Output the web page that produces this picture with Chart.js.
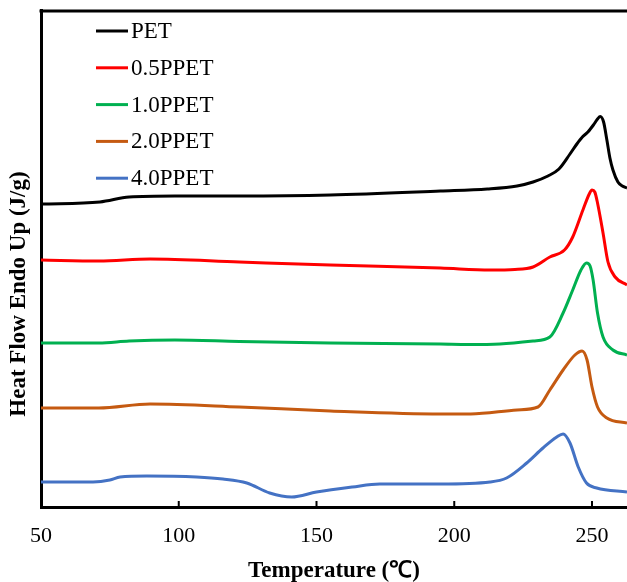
<!DOCTYPE html>
<html>
<head>
<meta charset="utf-8">
<script src="https://cdn.jsdelivr.net/npm/chart.js@4/dist/chart.umd.min.js"></script>
<style>
  html, body { margin: 0; padding: 0; background: #fff; }
  #wrap { width: 627px; height: 582px; }
</style>
</head>
<body>
<div id="wrap"><canvas id="dsc"></canvas></div>
<script>
// DSC curves (temperature in °C, heat flow in arbitrary stacked units)
const seriesNames = ['PET', '0.5PPET', '1.0PPET', '2.0PPET', '4.0PPET'];
const seriesColors = ['#000000', '#FF0000', '#00B050', '#C55A11', '#4472C4'];

const petT = [50, 71.4, 82, 98.6, 122, 155, 195, 212, 222.8, 228.6, 234, 238, 242, 244.5, 246.5, 248.5, 250.5, 252, 253, 254.2, 255.4, 256.5, 257.6, 259.4, 261, 262.7];
const petHF = [3.03, 3.05, 3.10, 3.11, 3.11, 3.12, 3.16, 3.18, 3.21, 3.25, 3.31, 3.38, 3.53, 3.63, 3.70, 3.75, 3.82, 3.88, 3.905, 3.85, 3.67, 3.49, 3.37, 3.25, 3.21, 3.19];

const pp05T = [50, 71, 89.6, 122, 155, 195, 213, 222, 228.6, 234.7, 240, 243, 246.7, 249, 250, 251, 252, 254, 255.8, 258.4, 262.7];
const pp05HF = [2.47, 2.46, 2.48, 2.45, 2.42, 2.39, 2.37, 2.375, 2.40, 2.50, 2.57, 2.70, 2.97, 3.13, 3.17, 3.15, 3.04, 2.74, 2.45, 2.30, 2.22];

const pp10T = [50, 71, 82, 98.6, 122, 155, 195, 205, 216.6, 228.6, 234.7, 239.5, 243, 246, 248, 249.3, 250.4, 252, 254, 257.6, 262.7];
const pp10HF = [1.64, 1.64, 1.66, 1.67, 1.655, 1.64, 1.63, 1.625, 1.63, 1.66, 1.70, 1.94, 2.17, 2.37, 2.44, 2.41, 2.27, 1.94, 1.70, 1.57, 1.52];

const pp20T = [50, 71, 89.6, 122, 155, 195, 206, 222.8, 230.4, 234.7, 239.5, 243.8, 246.4, 248.2, 250, 252, 255.4, 262.7];
const pp20HF = [0.99, 0.99, 1.03, 1.00, 0.96, 0.93, 0.93, 0.97, 1.00, 1.17, 1.37, 1.52, 1.56, 1.47, 1.20, 1.00, 0.89, 0.84];

const pp40T = [50, 68.9, 75, 78.7, 88.4, 106.5, 116, 124.7, 133, 141, 150, 163, 173, 195, 213, 219, 226.3, 232.2, 237.2, 239.5, 242, 245, 248, 251.7, 262.7];
const pp40HF = [0.25, 0.25, 0.27, 0.30, 0.31, 0.30, 0.28, 0.24, 0.14, 0.10, 0.15, 0.20, 0.23, 0.23, 0.25, 0.29, 0.44, 0.59, 0.70, 0.73, 0.64, 0.40, 0.24, 0.19, 0.15];

const xTicks = [50, 100, 150, 200, 250];

const serif = "'Liberation Serif', 'Times New Roman', serif";

function pairs(t, v) {
    return t.map((x, i) => ({ x: x, y: v[i] }));
}

const allT = [petT, pp05T, pp10T, pp20T, pp40T];
const allHF = [petHF, pp05HF, pp10HF, pp20HF, pp40HF];

const datasets = seriesNames.map((name, i) => ({
    label: name,
    data: pairs(allT[i], allHF[i]),
    borderColor: seriesColors[i],
    backgroundColor: seriesColors[i],
    borderWidth: 3,
    pointRadius: 0,
    cubicInterpolationMode: 'monotone',
    fill: false
}));

// frame top line, inward ticks, rotated y title and the legend
const decor = {
    id: 'decor',
    afterDraw(chart) {
        const ctx = chart.ctx;
        const area = chart.chartArea;
        const xs = chart.scales.x;
        ctx.save();
        ctx.strokeStyle = '#000';
        ctx.lineWidth = 3;
        ctx.beginPath();
        ctx.moveTo(area.left - 1.5, area.top + 1);
        ctx.lineTo(area.right, area.top + 1);
        ctx.stroke();

        ctx.lineWidth = 2;
        xTicks.slice(1).forEach(v => {
            const px = xs.getPixelForValue(v);
            ctx.beginPath();
            ctx.moveTo(px, area.bottom);
            ctx.lineTo(px, area.bottom - 6);
            ctx.stroke();
        });

        ctx.fillStyle = '#000';
        ctx.font = 'bold 23px ' + serif;
        ctx.textAlign = 'center';
        ctx.textBaseline = 'middle';
        ctx.translate(19, 294);
        ctx.rotate(-Math.PI / 2);
        ctx.fillText('Heat Flow Endo Up (J/g)', 0, 0);
        ctx.restore();

        ctx.save();
        ctx.font = '23px ' + serif;
        ctx.textAlign = 'left';
        ctx.textBaseline = 'middle';
        seriesNames.forEach((name, i) => {
            const y = 31 + i * 36.8;
            ctx.strokeStyle = seriesColors[i];
            ctx.lineWidth = 3;
            ctx.beginPath();
            ctx.moveTo(96, y);
            ctx.lineTo(128, y);
            ctx.stroke();
            ctx.fillStyle = '#000';
            ctx.fillText(name, 131, y + 1);
        });
        ctx.restore();
    }
};

new Chart(document.getElementById('dsc'), {
    type: 'line',
    data: { datasets: datasets },
    options: {
        responsive: true,
        maintainAspectRatio: false,
        animation: false,
        layout: { padding: { top: 10, right: 0, left: 0, bottom: 0 } },
        plugins: {
            legend: { display: false },
            tooltip: { enabled: false }
        },
        scales: {
            x: {
                type: 'linear',
                min: 50,
                max: 262.7,
                afterBuildTicks: (s) => { s.ticks = xTicks.map(v => ({ value: v })); },
                afterFit: (s) => { s.height = 75; },
                grid: { display: false, drawTicks: false },
                border: { display: true, color: '#000', width: 3 },
                ticks: {
                    color: '#000',
                    padding: 16,
                    maxRotation: 0,
                    font: { family: serif, size: 22 }
                },
                title: {
                    display: true,
                    text: 'Temperature (℃)',
                    color: '#000',
                    padding: { top: 6, bottom: -3 },
                    font: { family: serif, size: 23, weight: 'bold' }
                }
            },
            y: {
                min: 0,
                max: 4.97,
                afterFit: (s) => { s.width = 41; },
                grid: { display: false, drawTicks: false },
                border: { display: true, color: '#000', width: 3 },
                ticks: { display: false }
            }
        }
    },
    plugins: [decor]
});
</script>
</body>
</html>
